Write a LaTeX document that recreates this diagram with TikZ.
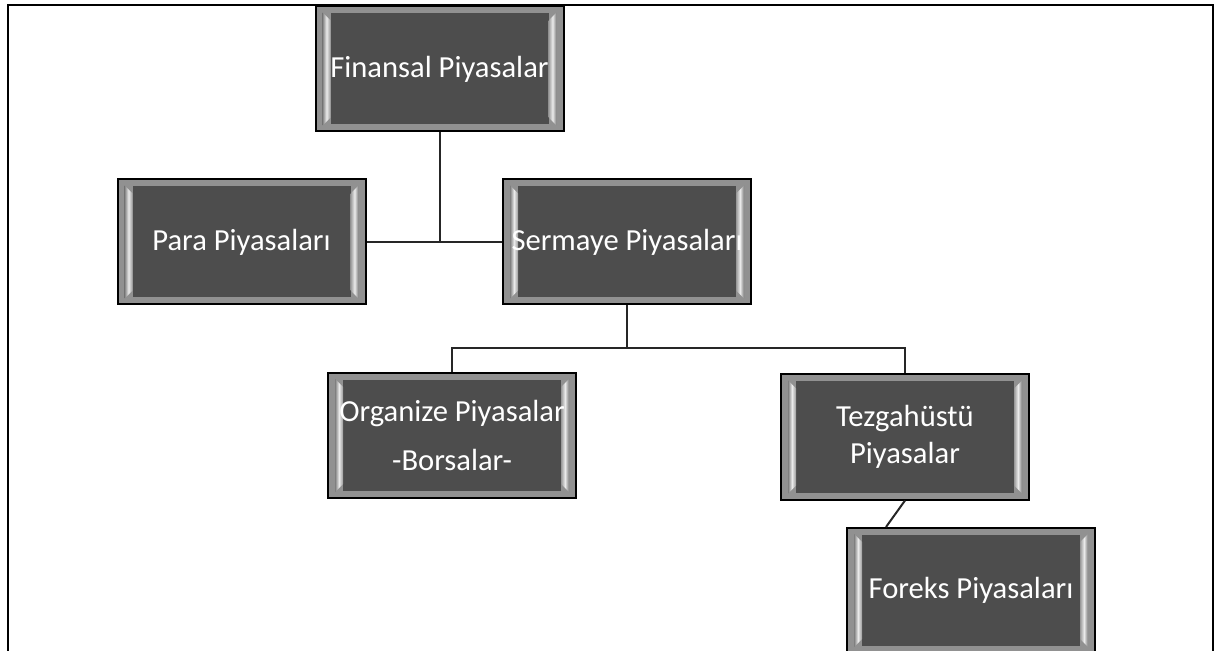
\documentclass[tikz,border=0pt]{standalone}
\usepackage{fontspec}
\setmainfont{Carlito}
\usetikzlibrary{positioning, calc}
\definecolor{boxface}{RGB}{77, 77, 77}
\definecolor{boxbevel}{RGB}{145, 145, 145}
\definecolor{boxshine}{RGB}{235, 235, 235}
\tikzset{
  piyasa/.style={draw=black, line width=1pt, fill=boxbevel, minimum width=124pt, minimum height=62.5pt,
    inner sep=0pt, align=center, text=white, font=\fontsize{15.3}{18.5}\selectfont,
    path picture={
      \coordinate (pp sw) at (path picture bounding box.south west);
      \coordinate (pp ne) at (path picture bounding box.north east);
      \coordinate (pp nw) at (path picture bounding box.north west);
      \coordinate (pp se) at (path picture bounding box.south east);
      % face
      \fill[boxface] ($(pp sw)+(7.5pt,3.5pt)$) rectangle ($(pp ne)+(-7.5pt,-3.5pt)$);
      % side shine
      \shade[left color=gray, right color=gray!80, middle color=boxshine]
        ($(pp nw)+(3.5pt,-3pt)$) -- ($(pp nw)+(7.5pt,-7pt)$) -- ($(pp sw)+(7.5pt,7pt)$) -- ($(pp sw)+(3.5pt,3pt)$) -- cycle;
      \shade[right color=gray, left color=gray!80, middle color=boxshine]
        ($(pp ne)+(-3.5pt,-3pt)$) -- ($(pp ne)+(-7.5pt,-7pt)$) -- ($(pp se)+(-7.5pt,7pt)$) -- ($(pp se)+(-3.5pt,3pt)$) -- cycle;
    }},
  baglanti/.style={line width=1pt, draw=black!85},
}

\begin{document}
\begin{tikzpicture}[x=0.5pt, y=-0.5pt]
  \useasboundingbox (0,0) rectangle (1218,651);
  \clip (0,0) rectangle (1218,651);

  % outer frame
  \draw[line width=1pt] (8,660) -- (8,5) -- (1213,5) -- (1213,660);

  % boxes
  \node[piyasa] (fin) at (439.5, 69) {Finansal Piyasalar};
  \node[piyasa] (para) at (241.5, 242) {Para Piyasaları};
  \node[piyasa] (serm) at (627, 242) {Sermaye Piyasaları};
  \node[piyasa] (org) at (452, 435.5) {Organize Piyasalar\\[6pt]-Borsalar-};
  \node[piyasa] (tez) at (905, 437) {Tezgahüstü\\Piyasalar};
  \node[piyasa] (forex) at (971, 590.5) {Foreks Piyasaları};

  % connectors
  \coordinate (sjoin) at (627, 348);
  \draw[baglanti] (para.east) -- (serm.west);
  \draw[baglanti] (fin.south) -- (fin.south |- para.east);
  \draw[baglanti] (serm.south) -- (sjoin);
  \draw[baglanti] (org.north) |- (sjoin) -| (tez.north);
  \draw[baglanti] (tez.south) -- ($(forex.north west)!0.16!(forex.north east)$);
\end{tikzpicture}
\end{document}
